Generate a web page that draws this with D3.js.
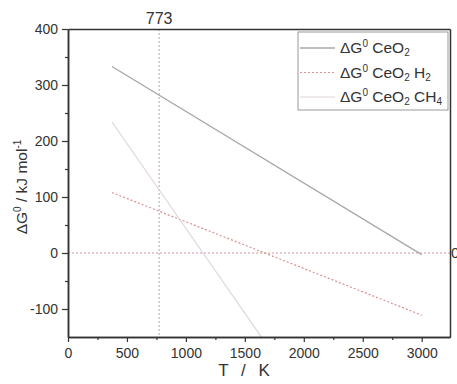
<!DOCTYPE html>
<html>
<head>
<meta charset="utf-8">
<script src="https://cdn.jsdelivr.net/npm/d3@7"></script>
<style>
  body { margin: 0; background: #fff; }
  text { font-family: Arial, "Liberation Sans", sans-serif; fill: #333; }
</style>
</head>
<body>
<svg id="chart" width="457" height="384"></svg>
<script>
// data: [T in K, dG0 in kJ/mol]
const ceo2 = [[373, 333], [3000, -3]];
const ceo2H2 = [[373, 108], [3000, -111]];
const ceo2CH4 = [[373, 234], [3000, -562]];
const xTicks = [0, 500, 1000, 1500, 2000, 2500, 3000];
const yTicks = [-100, 0, 100, 200, 300, 400];
const refT = 773;
const refG = 0;

const svg = d3.select("#chart");
const margin = { top: 29, right: 7, bottom: 47, left: 68 };
const iw = 457 - margin.left - margin.right;
const ih = 384 - margin.top - margin.bottom;

const g = svg.append("g").attr("transform", `translate(${margin.left},${margin.top})`);

const x = d3.scaleLinear().domain([0, 3240]).range([0, iw]);
const y = d3.scaleLinear().domain([-150, 400]).range([ih, 0]);

svg.append("defs").append("clipPath").attr("id", "clip")
  .append("rect").attr("width", iw).attr("height", ih);

// reference lines
g.append("line")
  .attr("x1", x(refT)).attr("x2", x(refT))
  .attr("y1", 0).attr("y2", ih)
  .attr("stroke", "#c6b2b8").attr("stroke-width", 1.2)
  .attr("stroke-dasharray", "2,2");
g.append("line")
  .attr("x1", 0).attr("x2", iw)
  .attr("y1", y(refG)).attr("y2", y(refG))
  .attr("stroke", "#d29a9a").attr("stroke-width", 1.2)
  .attr("stroke-dasharray", "2,2");

const line = d3.line().x(d => x(d[0])).y(d => y(d[1]));
const series = [
  { data: ceo2, color: "#a8a8a8", dash: null, w: 1.3 },
  { data: ceo2H2, color: "#dc9090", dash: "2,2", w: 1.2 },
  { data: ceo2CH4, color: "#dcd4da", dash: null, w: 1.1 }
];
g.append("g").attr("clip-path", "url(#clip)")
  .selectAll("path").data(series).join("path")
    .attr("d", d => line(d.data))
    .attr("fill", "none")
    .attr("stroke", d => d.color)
    .attr("stroke-width", d => d.w)
    .attr("stroke-dasharray", d => d.dash);

// axes (plain hyphen for negatives, no thousands separator)
const fmt = d => String(d);
const styleAxis = sel => {
  sel.selectAll(".domain").attr("stroke", "#333").attr("stroke-width", 1.5);
  sel.selectAll(".tick line").attr("stroke", "#333").attr("stroke-width", 1.2);
  sel.selectAll(".tick text").attr("font-size", 14).attr("fill", "#333");
};

g.append("g").attr("transform", `translate(0,${ih})`)
  .call(d3.axisBottom(x).tickValues(d3.range(250, 3250, 500)).tickSize(3).tickFormat("").tickSizeOuter(0))
  .call(styleAxis);
g.append("g").attr("transform", `translate(0,${ih})`)
  .call(d3.axisBottom(x).tickValues(xTicks).tickSize(5).tickPadding(6).tickFormat(fmt).tickSizeOuter(0))
  .call(styleAxis);

g.append("g")
  .call(d3.axisLeft(y).tickValues(d3.range(-50, 400, 100)).tickSize(3).tickFormat("").tickSizeOuter(0))
  .call(styleAxis);
g.append("g")
  .call(d3.axisLeft(y).tickValues(yTicks).tickSize(6).tickPadding(4).tickFormat(fmt).tickSizeOuter(0))
  .call(styleAxis);

g.append("g").call(d3.axisTop(x).tickValues([]).tickSizeOuter(0)).call(styleAxis);
g.append("g").attr("transform", `translate(${iw},0)`)
  .call(d3.axisRight(y).tickValues([]).tickSizeOuter(0)).call(styleAxis);

// reference labels
g.append("text")
  .attr("x", x(refT)).attr("y", -5)
  .attr("text-anchor", "middle").attr("font-size", 16)
  .text(refT);
g.append("text")
  .attr("x", iw + 1).attr("y", y(refG)).attr("dy", "0.35em")
  .attr("font-size", 15)
  .text(refG);

// axis titles
g.append("text")
  .attr("x", 244 - margin.left).attr("y", ih + 39)
  .attr("text-anchor", "middle").attr("font-size", 17)
  .attr("word-spacing", 8)
  .text("T / K");

const yt = g.append("text")
  .attr("transform", `translate(${27 - margin.left},${187 - margin.top}) rotate(-90)`)
  .attr("text-anchor", "middle").attr("font-size", 15.5);
yt.append("tspan").text("ΔG");
yt.append("tspan").attr("font-size", 10).attr("dy", -6).text("0");
yt.append("tspan").attr("dy", 6).text(" / kJ mol");
yt.append("tspan").attr("font-size", 10).attr("dy", -6).text("-1");

// legend
const legend = svg.append("g").attr("transform", "translate(298,32)");
legend.append("rect")
  .attr("width", 150).attr("height", 78)
  .attr("fill", "#fff").attr("stroke", "#999").attr("stroke-width", 1);
const labels = [["CeO", "2", ""], ["CeO", "2", " H", "2"], ["CeO", "2", " CH", "4"]];
series.forEach((s, i) => {
  const cy = 16 + i * 24.5;
  legend.append("line")
    .attr("x1", 2).attr("x2", 37).attr("y1", cy).attr("y2", cy)
    .attr("stroke", s.color).attr("stroke-width", s.w)
    .attr("stroke-dasharray", s.dash);
  const t = legend.append("text").attr("x", 42).attr("y", cy + 5).attr("font-size", 15.5);
  t.append("tspan").text("ΔG");
  t.append("tspan").attr("font-size", 10).attr("dy", -6).text("0");
  t.append("tspan").attr("dy", 6).text(" " + labels[i][0]);
  t.append("tspan").attr("font-size", 10).attr("dy", 3).text(labels[i][1]);
  if (labels[i].length > 3) {
    t.append("tspan").attr("dy", -3).text(labels[i][2]);
    t.append("tspan").attr("font-size", 10).attr("dy", 3).text(labels[i][3]);
  }
});
</script>
</body>
</html>
